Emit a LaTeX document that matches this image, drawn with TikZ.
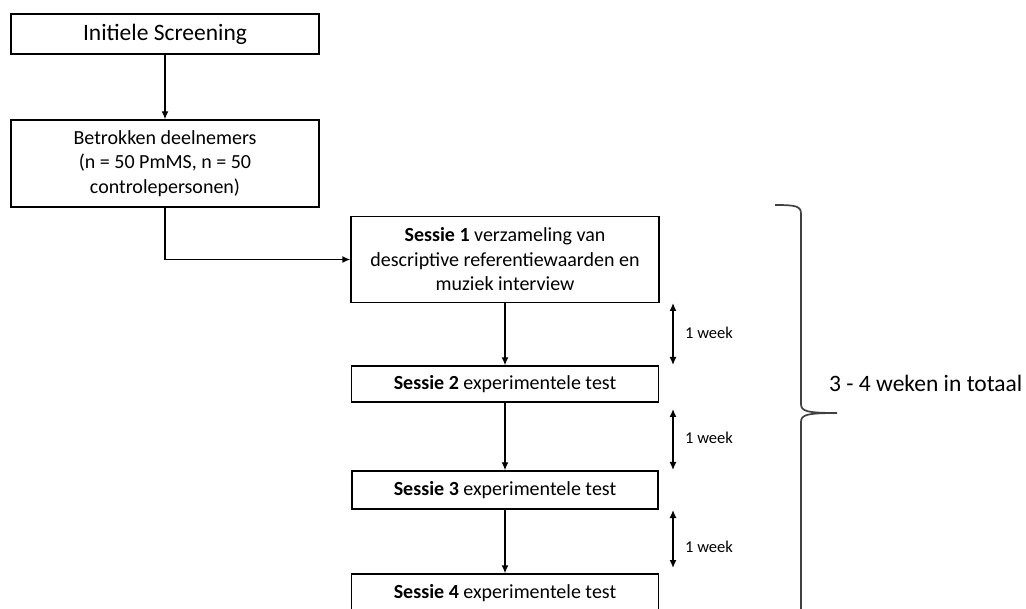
\documentclass[tikz,border=0pt]{standalone}
\usepackage{fontspec}
\setmainfont{Carlito}
\usetikzlibrary{arrows.meta}
\begin{document}
\begin{tikzpicture}[x=1pt,y=-1pt,
    box/.style={draw,line width=1.4pt,align=center,inner sep=0pt,
      font=\fontsize{20}{24.5}\selectfont},
    conn/.style={line width=1.4pt,-{Latex[length=8pt,width=7pt]}},
    span/.style={line width=1.4pt,{Latex[length=8pt,width=7pt]}-{Latex[length=8pt,width=7pt]}},
    weeklabel/.style={anchor=west,inner sep=0pt,font=\fontsize{16.5}{20}\selectfont}]
  \useasboundingbox (0,0) rectangle (1026,609);
  \clip (0,0) rectangle (1026,609);
  \draw
    (165,34) node[box,minimum width=308pt,minimum height=40pt,
      font=\fontsize{23.5}{28}\selectfont] (screening){Initiele Screening}
    (165,163.5) node[box,minimum width=308pt,minimum height=87pt] (deelnemers)
      {Betrokken deelnemers\\(n = 50 PmMS, n = 50\\controlepersonen)}
    (505,259.5) node[box,minimum width=308pt,minimum height=86pt] (sessie1)
      {\textbf{Sessie 1} verzameling van\\descriptive referentiewaarden en\\muziek interview}
    (505,384) node[box,minimum width=307pt,minimum height=36pt] (sessie2)
      {\textbf{Sessie 2} experimentele test}
    (505,490) node[box,minimum width=306pt,minimum height=38pt] (sessie3)
      {\textbf{Sessie 3} experimentele test}
    (505,593) node[box,minimum width=307pt,minimum height=38pt] (sessie4)
      {\textbf{Sessie 4} experimentele test};
  \coordinate (w1top) at (673,303);
  \coordinate (w1bot) at (673,365);
  \coordinate (w2top) at (673,409);
  \coordinate (w2bot) at (673,470);
  \coordinate (w3top) at (673,510);
  \coordinate (w3bot) at (673,568);
  \coordinate (bracetop) at (775,205);
  \coordinate (bracetip) at (837,413);
  \coordinate (bracebot) at (801,640);
  \begin{scope}[-]
    \draw[conn] (screening) to (deelnemers);
    \draw[conn] (deelnemers.south) |- (sessie1.west);
    \draw[conn] (sessie1) to (sessie2);
    \draw[conn] (sessie2) to (sessie3);
    \draw[conn] (sessie3) to (sessie4);
    \draw[span] (w1top) to (w1bot);
    \draw[span] (w2top) to (w2bot);
    \draw[span] (w3top) to (w3bot);
  \end{scope}
  \node[weeklabel] (week1) at (685,333) {1 week};
  \node[weeklabel] (week2) at (685,438) {1 week};
  \node[weeklabel] (week3) at (685,547) {1 week};
  \draw[line width=1.7pt,black!75]
    (bracetop) .. controls (796,205) and (801,206) .. (801,214)
    -- (801,404) .. controls (801,411) and (806,413) .. (bracetip)
    .. controls (806,413) and (801,415) .. (801,422) -- (bracebot);
  \node[anchor=west,inner sep=0pt,font=\fontsize{23.5}{28}\selectfont] (totaal)
    at (829,383) {3 - 4 weken in totaal};
\end{tikzpicture}
\end{document}
